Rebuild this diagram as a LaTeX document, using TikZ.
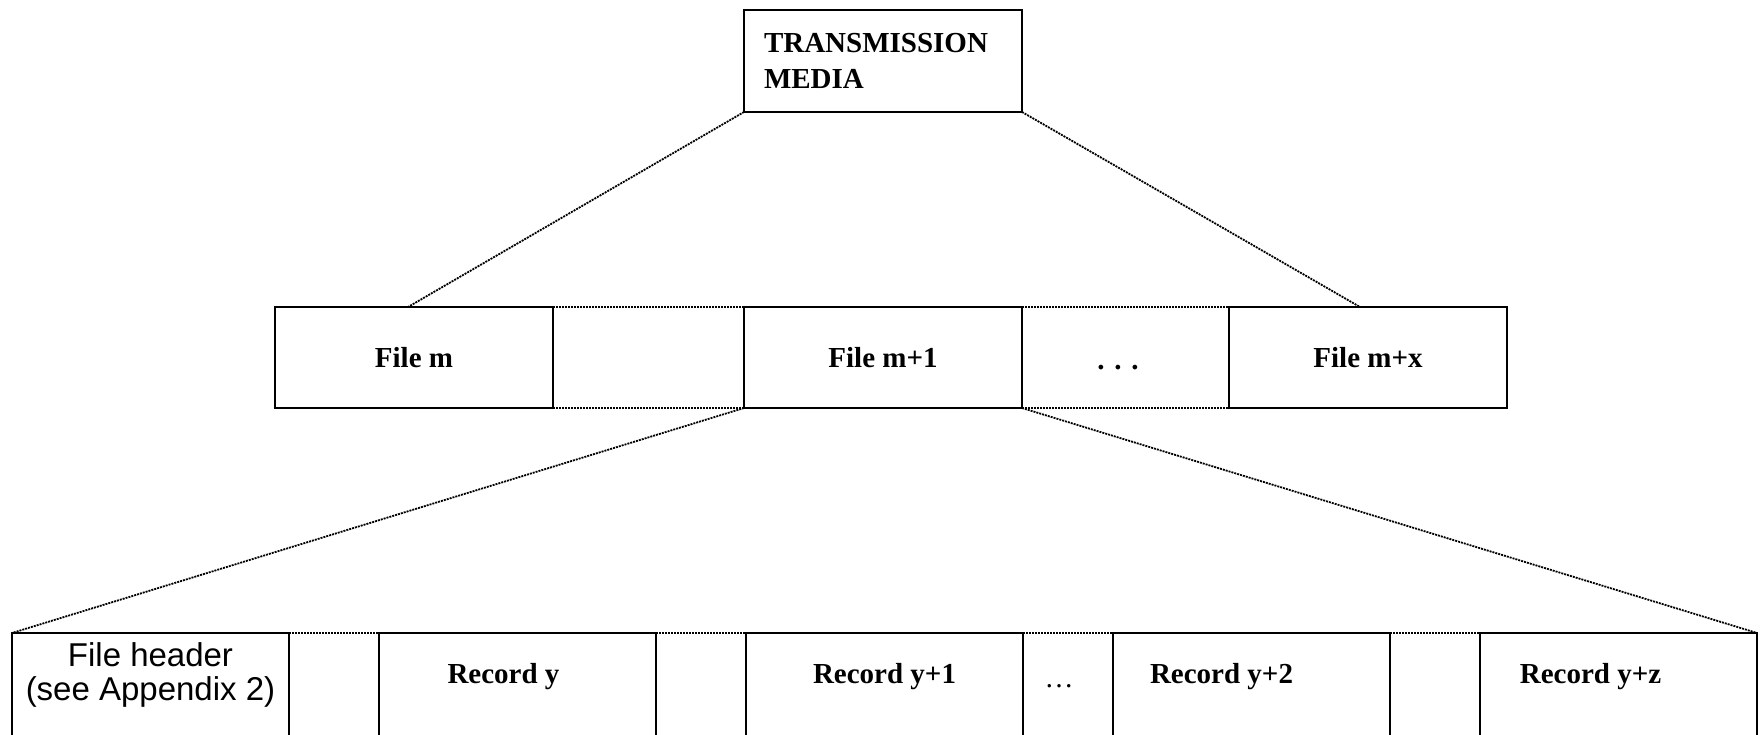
\documentclass[tikz,border=0pt]{standalone}
\usepackage{fontspec}
\setmainfont{Liberation Serif}
\newfontfamily\arialfont{Liberation Sans}
\usetikzlibrary{positioning}

\begin{document}
\begin{tikzpicture}[x=1pt,y=-1pt,
    box/.style={draw, line width=1.6pt, outer sep=0pt, inner sep=0pt,
                minimum width=278pt, minimum height=101pt},
    recbox/.style={box, minimum width=277pt, minimum height=140pt},
    lbl/.style={font=\fontsize{29}{36}\selectfont\bfseries},
    dotline/.style={line width=1.8pt, dash pattern=on 2pt off 1pt}]
  \clip (0,0) rectangle (1760,735);
  % files
  \node[box, lbl, anchor=north west] (filem1) at (744,307) {File m+1};
  \node[box, lbl, left=191pt of filem1] (filem) {File m};
  \node[box, lbl, right=207pt of filem1] (filemx) {File m+x};
  \node[box, lbl, minimum height=102pt, text width=238pt, align=left,
        above=195pt of filem1] (media) {TRANSMISSION\\MEDIA};
  \node[lbl, anchor=base] (fdots) at ([xshift=96pt, yshift=-11.5pt]filem1.east) {. . .};
  % records
  \node[recbox, anchor=north west] (head) at (12,633) {};
  \node[recbox, right=90pt of head] (recy) {};
  \node[recbox, right=90pt of recy] (recy1) {};
  \node[recbox, right=90pt of recy1] (recy2) {};
  \node[recbox, right=90pt of recy2] (recz) {};
  \node[font=\arialfont\fontsize{33}{34}\selectfont, align=center, anchor=north,
        inner sep=0pt] (headlbl) at ([yshift=-9pt]head.north) {File header\\(see Appendix 2)};
  \node[lbl, anchor=base] (recylbl) at ([xshift=-14pt, yshift=-50pt]recy.north) {Record y};
  \node[lbl, anchor=base] (recy1lbl) at ([yshift=-50pt]recy1.north) {Record y+1};
  \node[lbl, anchor=base] (recy2lbl) at ([xshift=-30pt, yshift=-50pt]recy2.north) {Record y+2};
  \node[lbl, anchor=base] (reczlbl) at ([xshift=-28pt, yshift=-50pt]recz.north) {Record y+z};
  \node[font=\fontsize{29}{36}\selectfont, anchor=base] (rdots) at ([xshift=36pt, yshift=-54pt]recy1.north east) {…};
  % dotted links
  \draw[dotline] (media.south west) -- ([xshift=133pt]filem.north west);
  \draw[dotline] (media.south east) -- ([xshift=131pt]filemx.north west);
  \draw[dotline] (filem.north east) -- (filem1.north west) (filem.south east) -- (filem1.south west);
  \draw[dotline] (filem1.north east) -- (filemx.north west) (filem1.south east) -- (filemx.south west);
  \draw[dotline] (filem1.south west) -- (head.north west);
  \draw[dotline] (filem1.south east) -- (recz.north east);
  \foreach \a/\b in {head/recy, recy/recy1, recy1/recy2, recy2/recz}
    \draw[dotline] (\a.north east) -- (\b.north west);
\end{tikzpicture}
\end{document}
